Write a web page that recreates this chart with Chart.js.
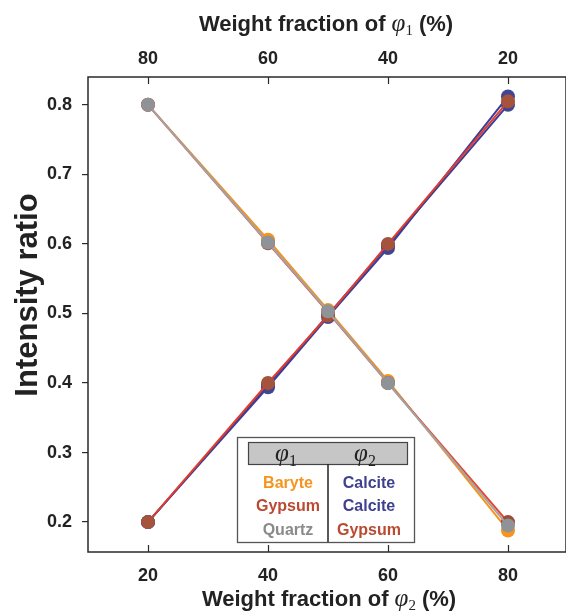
<!DOCTYPE html>
<html>
<head>
<meta charset="utf-8">
<script src="https://cdn.jsdelivr.net/npm/chart.js@4/dist/chart.umd.min.js"></script>
<style>
  html, body { margin: 0; padding: 0; background: #ffffff; }
  #wrap { width: 566px; height: 612px; position: relative; }
</style>
</head>
<body>
<div id="wrap"><canvas id="c" width="566" height="612"></canvas></div>
<script>
// ---- data ----
const weightFraction2 = [20, 40, 50, 60, 80];          // weight fraction of phi2 (%)
const baryteRatio      = [0.800, 0.606, 0.505, 0.403, 0.188]; // Baryte (phi1) in Baryte/Calcite
const gypsumRatio1     = [0.800, 0.601, 0.502, 0.400, 0.200]; // Gypsum (phi1) in Gypsum/Calcite
const quartzRatio      = [0.800, 0.602, 0.503, 0.400, 0.195]; // Quartz (phi1) in Quartz/Gypsum
const calciteRatioA    = [0.200, 0.394, 0.495, 0.594, 0.812]; // Calcite (phi2) with Baryte
const calciteRatioB    = [0.200, 0.397, 0.498, 0.598, 0.800]; // Calcite (phi2) with Gypsum
const gypsumRatio2     = [0.200, 0.400, 0.497, 0.600, 0.805]; // Gypsum (phi2) with Quartz

const bottomTicks = [20, 40, 60, 80];
const topTicks    = [80, 60, 40, 20];
const yTicks      = [0.2, 0.3, 0.4, 0.5, 0.6, 0.7, 0.8];

const legendPhi1 = ['Baryte', 'Gypsum', 'Quartz'];
const legendPhi2 = ['Calcite', 'Calcite', 'Gypsum'];

// ---- styles ----
const C = {
  orange: '#F7941D', gypLine: '#E8432F', gypMark: '#9C4B37',
  grayLine: '#A3A3A3', grayMark: '#8F9297', navyLine: '#3A3E98', navyMark: '#42458F',
  gyp2Line: '#E23B2E', gyp2Mark: '#A5533D',
  txtOrange: '#F7941D', txtGyp: '#BA4A31', txtGray: '#8A8A8A', txtNavy: '#3F418F'
};
const SANS = '"Liberation Sans", Arial, sans-serif';
const SERIF = '"Liberation Serif", "Times New Roman", serif';

function pts(ys) { return weightFraction2.map((x, i) => ({ x: x, y: ys[i] })); }
function ds(label, ys, line, mark, order) {
  return { label, data: pts(ys), borderColor: line, backgroundColor: mark,
    pointBackgroundColor: mark, pointBorderColor: mark, pointBorderWidth: 0,
    pointRadius: 7, pointHoverRadius: 7, borderWidth: 2, tension: 0, order, fill: false };
}

function drawRich(ctx, parts, cx, cy) {
  let w = 0;
  parts.forEach(p => { ctx.font = p.font; p.w = ctx.measureText(p.t).width; w += p.w + (p.gap || 0); });
  let x = cx - w / 2;
  ctx.textBaseline = 'alphabetic'; ctx.textAlign = 'left';
  parts.forEach(p => { ctx.font = p.font; ctx.fillStyle = p.color || '#222'; ctx.fillText(p.t, x, cy + (p.dy || 0)); x += p.w + (p.gap || 0); });
}

const deco = {
  id: 'deco',
  afterDraw(chart) {
    const { ctx, chartArea: a, scales } = chart;
    ctx.save();
    // frame
    ctx.strokeStyle = '#2a2a2a'; ctx.lineWidth = 1.5;
    ctx.strokeRect(a.left, a.top, a.right - a.left, a.bottom - a.top);
    // inward ticks on bottom and top axes
    ctx.lineWidth = 1.2;
    bottomTicks.forEach(v => { const px = Math.round(scales.x.getPixelForValue(v)) + 0.5;
      ctx.beginPath(); ctx.moveTo(px, a.bottom); ctx.lineTo(px, a.bottom - 7); ctx.stroke(); });
    topTicks.forEach(v => { const px = Math.round(scales.x2.getPixelForValue(v)) + 0.5;
      ctx.beginPath(); ctx.moveTo(px, a.top); ctx.lineTo(px, a.top + 7); ctx.stroke(); });

    // axis titles
    const tf = 'bold 22px ' + SANS;
    drawRich(ctx, [
      { t: 'Weight fraction of ', font: tf },
      { t: '\u03C6', font: 'italic 25px ' + SERIF },
      { t: '1', font: '15px ' + SERIF, dy: 4, gap: 6 },
      { t: '(%)', font: tf }
    ], 326, 31);
    drawRich(ctx, [
      { t: 'Weight fraction of ', font: tf },
      { t: '\u03C6', font: 'italic 25px ' + SERIF },
      { t: '2', font: '15px ' + SERIF, dy: 4, gap: 6 },
      { t: '(%)', font: tf }
    ], 329, 606);
    ctx.save();
    ctx.translate(37, 295); ctx.rotate(-Math.PI / 2);
    ctx.font = 'bold 31px ' + SANS; ctx.fillStyle = '#222'; ctx.textAlign = 'center'; ctx.textBaseline = 'alphabetic';
    ctx.fillText('Intensity ratio', 0, 0);
    ctx.restore();

    // legend table
    const L = 237, T = 437, R = 414, B = 542, mid = 328;
    ctx.fillStyle = '#ffffff'; ctx.fillRect(L, T, R - L, B - T);
    ctx.strokeStyle = '#555'; ctx.lineWidth = 1.3; ctx.strokeRect(L + 0.5, T + 0.5, R - L, B - T);
    ctx.fillStyle = '#C6C6C6'; ctx.fillRect(248, 442, 159, 22);
    ctx.strokeStyle = '#444'; ctx.lineWidth = 1.2; ctx.strokeRect(248.5, 442.5, 159, 22);
    ctx.strokeStyle = '#222'; ctx.lineWidth = 1.5;
    ctx.beginPath(); ctx.moveTo(mid, 464); ctx.lineTo(mid, B); ctx.stroke();
    drawRich(ctx, [{ t: '\u03C6', font: 'italic 25px ' + SERIF }, { t: '1', font: '16px ' + SERIF, dy: 5 }], 286, 461);
    drawRich(ctx, [{ t: '\u03C6', font: 'italic 25px ' + SERIF }, { t: '2', font: '16px ' + SERIF, dy: 5 }], 365, 461);
    const lf = 'bold 16px ' + SANS;
    const leftCols = [C.txtOrange, C.txtGyp, C.txtGray];
    const rightCols = [C.txtNavy, C.txtNavy, C.txtGyp];
    const rowsY = [488, 511, 535];
    ctx.textAlign = 'center'; ctx.textBaseline = 'alphabetic'; ctx.font = lf;
    legendPhi1.forEach((t, i) => { ctx.fillStyle = leftCols[i]; ctx.fillText(t, 288, rowsY[i]); });
    legendPhi2.forEach((t, i) => { ctx.fillStyle = rightCols[i]; ctx.fillText(t, 369, rowsY[i]); });
    ctx.restore();
  }
};

function noPad(s) { s.paddingLeft = 0; s.paddingRight = 0; }

new Chart(document.getElementById('c'), {
  type: 'line',
  data: {
    datasets: [
      ds('Baryte (\u03C61)', baryteRatio, C.orange, C.orange, 5),
      ds('Calcite (\u03C62, with Baryte)', calciteRatioA, C.navyLine, C.navyMark, 4),
      ds('Calcite (\u03C62, with Gypsum)', calciteRatioB, C.navyLine, C.navyMark, 3),
      ds('Gypsum (\u03C61)', gypsumRatio1, C.gypLine, C.gypMark, 2),
      ds('Gypsum (\u03C62, with Quartz)', gypsumRatio2, C.gyp2Line, C.gyp2Mark, 1),
      ds('Quartz (\u03C61)', quartzRatio, C.grayLine, C.grayMark, 0)
    ]
  },
  plugins: [deco],
  options: {
    responsive: false, animation: false, devicePixelRatio: 1,
    layout: { padding: 0, autoPadding: false },
    plugins: { legend: { display: false }, tooltip: { enabled: false }, title: { display: false } },
    scales: {
      x: {
        type: 'linear', position: 'bottom', min: 10, max: 89.67,
        afterBuildTicks: s => { s.ticks = bottomTicks.map(v => ({ value: v })); },
        afterFit: s => { s.height = 60; noPad(s); },
        grid: { display: false, drawTicks: false }, border: { display: false },
        ticks: { padding: 13, color: '#222', font: { family: SANS, size: 18, weight: 'bold' } }
      },
      x2: {
        type: 'linear', position: 'top', reverse: true, min: 10.33, max: 90,
        afterBuildTicks: s => { s.ticks = topTicks.map(v => ({ value: v })); },
        afterFit: s => { s.height = 77; noPad(s); },
        grid: { display: false, drawTicks: false }, border: { display: false },
        ticks: { padding: 7, color: '#222', font: { family: SANS, size: 18, weight: 'bold' } }
      },
      y: {
        type: 'linear', position: 'left', min: 0.157, max: 0.840,
        afterBuildTicks: s => { s.ticks = yTicks.map(v => ({ value: v })); },
        afterFit: s => { s.width = 88; s.paddingTop = 0; s.paddingBottom = 0; },
        grid: { display: true, drawOnChartArea: false, drawTicks: true, tickLength: 6, color: '#2a2a2a', lineWidth: 1.2 },
        border: { display: false },
        ticks: { padding: 10, color: '#222', font: { family: SANS, size: 18, weight: 'bold' },
          callback: v => v.toFixed(1) }
      }
    }
  }
});
</script>
</body>
</html>
